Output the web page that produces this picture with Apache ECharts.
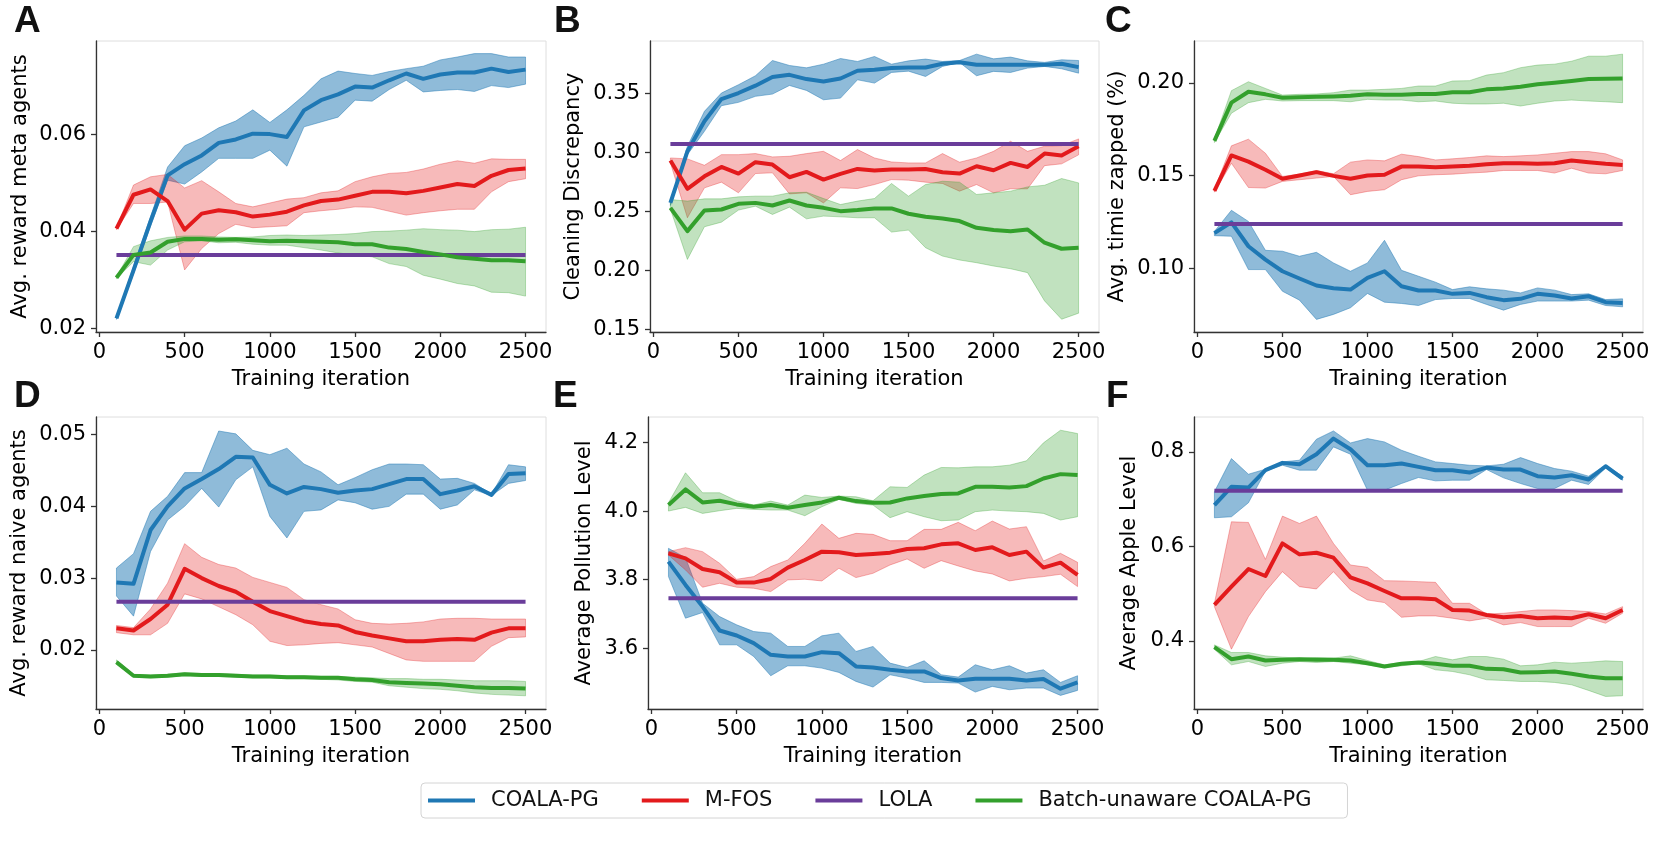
<!DOCTYPE html>
<html>
<head>
<meta charset="utf-8">
<script src="https://cdn.jsdelivr.net/npm/echarts@6/dist/echarts.min.js"></script>
<style>
html,body{margin:0;padding:0;background:#fff;}
#chart{width:1661px;height:841px;}
</style>
</head>
<body>
<div id="chart"></div>
<script>
const iterations = [100,200,300,400,500,600,700,800,900,1000,1100,1200,1300,1400,1500,1600,1700,1800,1900,2000,2100,2200,2300,2400,2500];
const xTicks = [0,500,1000,1500,2000,2500];
const seriesNames = ['COALA-PG','M-FOS','LOLA','Batch-unaware COALA-PG'];

// Panel A: Avg. reward meta agents
const A_coala_mean = [0.0220,0.0319,0.0420,0.0515,0.0538,0.0556,0.0582,0.0589,0.0601,0.0600,0.0594,0.0649,0.0670,0.0682,0.0698,0.0696,0.0711,0.0725,0.0714,0.0723,0.0727,0.0727,0.0735,0.0728,0.0733];
const A_coala_lo = [0.0218,0.0312,0.0410,0.0505,0.0497,0.0522,0.0550,0.0550,0.0550,0.0567,0.0534,0.0615,0.0625,0.0635,0.0670,0.0668,0.0692,0.0711,0.0687,0.0690,0.0692,0.0688,0.0700,0.0696,0.0703];
const A_coala_hi = [0.0222,0.0328,0.0430,0.0532,0.0576,0.0592,0.0613,0.0627,0.0650,0.0624,0.0650,0.0680,0.0714,0.0730,0.0725,0.0721,0.0729,0.0735,0.0740,0.0753,0.0759,0.0766,0.0766,0.0759,0.0759];
const A_mfos_mean = [0.0405,0.0475,0.0486,0.0462,0.0403,0.0436,0.0443,0.0439,0.0430,0.0434,0.0440,0.0453,0.0462,0.0465,0.0473,0.0481,0.0481,0.0478,0.0483,0.0490,0.0497,0.0493,0.0514,0.0526,0.0529];
const A_mfos_lo = [0.0403,0.0457,0.0457,0.0460,0.0320,0.0364,0.0395,0.0414,0.0407,0.0409,0.0411,0.0438,0.0442,0.0445,0.0450,0.0449,0.0441,0.0433,0.0438,0.0442,0.0445,0.0445,0.0481,0.0502,0.0508];
const A_mfos_hi = [0.0407,0.0495,0.0512,0.0517,0.0489,0.0504,0.0481,0.0457,0.0450,0.0458,0.0466,0.0469,0.0479,0.0483,0.0502,0.0512,0.0519,0.0521,0.0528,0.0538,0.0545,0.0540,0.0549,0.0548,0.0548];
const A_lola = 0.0351;
const A_batch_mean = [0.0304,0.0351,0.0356,0.0378,0.0384,0.0384,0.0382,0.0383,0.0381,0.0379,0.0380,0.0379,0.0378,0.0377,0.0373,0.0373,0.0366,0.0363,0.0357,0.0352,0.0346,0.0343,0.0340,0.0340,0.0338];
const A_batch_lo = [0.0302,0.0337,0.0330,0.0361,0.0378,0.0380,0.0376,0.0377,0.0373,0.0371,0.0371,0.0366,0.0361,0.0355,0.0351,0.0347,0.0333,0.0327,0.0309,0.0301,0.0292,0.0287,0.0274,0.0273,0.0266];
const A_batch_hi = [0.0306,0.0368,0.0380,0.0387,0.0390,0.0390,0.0388,0.0387,0.0388,0.0391,0.0392,0.0391,0.0392,0.0393,0.0395,0.0399,0.0400,0.0402,0.0405,0.0403,0.0402,0.0399,0.0403,0.0404,0.0408];
const A_yticks = [0.02,0.04,0.06];

// Panel B: Cleaning Discrepancy
const B_coala_mean = [0.2572,0.3008,0.3262,0.3450,0.3501,0.3563,0.3636,0.3655,0.3619,0.3599,0.3624,0.3689,0.3698,0.3712,0.3717,0.3717,0.3748,0.3762,0.3740,0.3740,0.3740,0.3740,0.3740,0.3748,0.3720];
const B_coala_lo = [0.2550,0.2980,0.3177,0.3394,0.3422,0.3473,0.3492,0.3565,0.3523,0.3444,0.3458,0.3613,0.3585,0.3675,0.3686,0.3641,0.3726,0.3760,0.3647,0.3684,0.3675,0.3712,0.3726,0.3706,0.3669];
const B_coala_hi = [0.2590,0.3050,0.3346,0.3501,0.3571,0.3647,0.3776,0.3734,0.3714,0.3745,0.3793,0.3768,0.3810,0.3745,0.3773,0.3788,0.3768,0.3776,0.3830,0.3790,0.3805,0.3773,0.3760,0.3782,0.3776];
const B_mfos_mean = [0.2930,0.2691,0.2797,0.2876,0.2820,0.2916,0.2896,0.2789,0.2834,0.2769,0.2817,0.2859,0.2845,0.2854,0.2854,0.2859,0.2831,0.2820,0.2882,0.2848,0.2910,0.2876,0.2989,0.2972,0.3051];
const B_mfos_lo = [0.2910,0.2446,0.2699,0.2747,0.2657,0.2820,0.2826,0.2648,0.2657,0.2572,0.2699,0.2693,0.2727,0.2769,0.2764,0.2747,0.2736,0.2671,0.2727,0.2657,0.2691,0.2691,0.2887,0.2902,0.2978];
const B_mfos_hi = [0.2952,0.2944,0.2890,0.2980,0.2980,0.2989,0.2961,0.2966,0.2989,0.3008,0.2930,0.3023,0.2952,0.2918,0.2910,0.2910,0.2989,0.2916,0.2952,0.3008,0.3093,0.3008,0.3051,0.3056,0.3113];
const B_lola = 0.3070;
const B_batch_mean = [0.2530,0.2333,0.2508,0.2516,0.2564,0.2572,0.2550,0.2592,0.2550,0.2530,0.2502,0.2511,0.2525,0.2525,0.2480,0.2454,0.2440,0.2418,0.2361,0.2342,0.2333,0.2347,0.2235,0.2184,0.2193];
const B_batch_lo = [0.2520,0.2094,0.2370,0.2409,0.2511,0.2544,0.2474,0.2536,0.2437,0.2460,0.2454,0.2446,0.2446,0.2325,0.2342,0.2193,0.2122,0.2089,0.2066,0.2038,0.2015,0.1982,0.1743,0.1588,0.1639];
const B_batch_hi = [0.2600,0.2587,0.2606,0.2606,0.2623,0.2629,0.2629,0.2657,0.2662,0.2609,0.2558,0.2587,0.2609,0.2736,0.2629,0.2727,0.2755,0.2747,0.2643,0.2657,0.2671,0.2707,0.2721,0.2778,0.2741];
const B_yticks = [0.15,0.20,0.25,0.30,0.35];

// Panel C: Avg. timie zapped (%)
const C_coala_mean = [0.1189,0.1247,0.1118,0.1046,0.0983,0.0944,0.0906,0.0891,0.0884,0.0947,0.0983,0.0902,0.0879,0.0879,0.0861,0.0866,0.0843,0.0827,0.0834,0.0861,0.0852,0.0836,0.0848,0.0816,0.0812];
const C_coala_lo = [0.1175,0.1172,0.0992,0.0992,0.0875,0.0827,0.0723,0.0750,0.0786,0.0863,0.0816,0.0809,0.0798,0.0830,0.0836,0.0836,0.0804,0.0773,0.0804,0.0822,0.0822,0.0822,0.0827,0.0798,0.0791];
const C_coala_hi = [0.1198,0.1312,0.1252,0.1096,0.1091,0.1064,0.1085,0.1028,0.0983,0.1028,0.1150,0.0988,0.0956,0.0924,0.0884,0.0899,0.0888,0.0881,0.0866,0.0893,0.0881,0.0857,0.0861,0.0830,0.0834];
const C_mfos_mean = [0.1417,0.1608,0.1575,0.1531,0.1482,0.1500,0.1518,0.1498,0.1482,0.1500,0.1504,0.1548,0.1548,0.1545,0.1548,0.1552,0.1561,0.1566,0.1566,0.1563,0.1566,0.1581,0.1572,0.1563,0.1557];
const C_mfos_lo = [0.1410,0.1566,0.1435,0.1432,0.1468,0.1477,0.1486,0.1495,0.1396,0.1414,0.1423,0.1477,0.1498,0.1504,0.1507,0.1513,0.1518,0.1527,0.1527,0.1527,0.1513,0.1539,0.1513,0.1509,0.1527];
const C_mfos_hi = [0.1425,0.1660,0.1696,0.1620,0.1495,0.1507,0.1527,0.1509,0.1572,0.1584,0.1579,0.1615,0.1602,0.1584,0.1590,0.1597,0.1606,0.1602,0.1606,0.1611,0.1620,0.1629,0.1629,0.1617,0.1584];
const C_lola = 0.1238;
const C_batch_mean = [0.1687,0.1893,0.1952,0.1938,0.1920,0.1922,0.1925,0.1927,0.1931,0.1938,0.1936,0.1936,0.1940,0.1940,0.1949,0.1949,0.1965,0.1970,0.1979,0.1992,0.2001,0.2010,0.2021,0.2022,0.2024];
const C_batch_lo = [0.1678,0.1836,0.1893,0.1911,0.1902,0.1904,0.1904,0.1904,0.1898,0.1911,0.1907,0.1907,0.1898,0.1902,0.1890,0.1886,0.1886,0.1890,0.1875,0.1890,0.1902,0.1907,0.1902,0.1898,0.1893];
const C_batch_hi = [0.1696,0.1958,0.2006,0.1970,0.1934,0.1938,0.1940,0.1947,0.1961,0.1961,0.1965,0.1970,0.1983,0.1983,0.2010,0.2012,0.2042,0.2055,0.2082,0.2096,0.2101,0.2117,0.2144,0.2144,0.2155];
const C_yticks = [0.10,0.15,0.20];

// Panel D: Avg. reward naive agents
const D_coala_mean = [0.0294,0.0292,0.0367,0.0400,0.0425,0.0438,0.0452,0.0469,0.0468,0.0430,0.0418,0.0427,0.0424,0.0419,0.0422,0.0424,0.0431,0.0438,0.0438,0.0417,0.0422,0.0428,0.0416,0.0445,0.0446];
const D_coala_lo = [0.0275,0.0247,0.0337,0.0381,0.0400,0.0425,0.0399,0.0437,0.0455,0.0386,0.0356,0.0393,0.0395,0.0409,0.0405,0.0396,0.0400,0.0417,0.0417,0.0396,0.0402,0.0423,0.0415,0.0432,0.0436];
const D_coala_hi = [0.0314,0.0334,0.0393,0.0414,0.0447,0.0447,0.0505,0.0501,0.0478,0.0472,0.0481,0.0459,0.0448,0.0430,0.0440,0.0451,0.0459,0.0459,0.0458,0.0438,0.0439,0.0432,0.0417,0.0458,0.0455];
const D_mfos_mean = [0.0230,0.0227,0.0243,0.0263,0.0313,0.0300,0.0289,0.0281,0.0267,0.0254,0.0247,0.0240,0.0236,0.0234,0.0225,0.0220,0.0216,0.0212,0.0212,0.0214,0.0215,0.0214,0.0224,0.0230,0.0230];
const D_mfos_lo = [0.0224,0.0221,0.0221,0.0237,0.0278,0.0271,0.0260,0.0249,0.0235,0.0212,0.0206,0.0207,0.0209,0.0210,0.0207,0.0204,0.0195,0.0186,0.0184,0.0184,0.0184,0.0184,0.0205,0.0217,0.0218];
const D_mfos_hi = [0.0234,0.0231,0.0257,0.0293,0.0348,0.0329,0.0319,0.0314,0.0301,0.0294,0.0287,0.0270,0.0263,0.0257,0.0242,0.0237,0.0236,0.0237,0.0239,0.0243,0.0244,0.0244,0.0243,0.0243,0.0243];
const D_lola = 0.0267;
const D_batch_mean = [0.0183,0.0164,0.0163,0.0164,0.0166,0.0165,0.0165,0.0164,0.0163,0.0163,0.0162,0.0162,0.0161,0.0161,0.0159,0.0158,0.0155,0.0154,0.0153,0.0152,0.0150,0.0148,0.0147,0.0147,0.0146];
const D_batch_lo = [0.0180,0.0162,0.0161,0.0162,0.0164,0.0163,0.0163,0.0162,0.0161,0.0161,0.0160,0.0160,0.0159,0.0158,0.0156,0.0155,0.0150,0.0148,0.0146,0.0145,0.0143,0.0140,0.0138,0.0137,0.0136];
const D_batch_hi = [0.0186,0.0166,0.0165,0.0166,0.0168,0.0167,0.0167,0.0166,0.0165,0.0165,0.0164,0.0164,0.0163,0.0163,0.0162,0.0161,0.0160,0.0160,0.0159,0.0159,0.0158,0.0157,0.0157,0.0157,0.0156];
const D_yticks = [0.02,0.03,0.04,0.05];

// Panel E: Average Pollution Level
const E_coala_mean = [3.8524,3.7845,3.7214,3.6515,3.6369,3.6146,3.5806,3.5757,3.5757,3.5883,3.5854,3.5466,3.5437,3.5369,3.5320,3.5320,3.5126,3.5058,3.5107,3.5107,3.5107,3.5058,3.5097,3.4816,3.5000];
const E_coala_lo = [3.8087,3.6874,3.7039,3.6097,3.6097,3.5757,3.5194,3.5485,3.5485,3.5417,3.5291,3.5029,3.4864,3.5223,3.5126,3.5000,3.5000,3.4981,3.4718,3.4883,3.4786,3.4835,3.4835,3.4621,3.4767];
const E_coala_hi = [3.8913,3.8641,3.7311,3.6922,3.6680,3.6485,3.6437,3.6049,3.6049,3.6359,3.6437,3.5903,3.6049,3.5563,3.5437,3.5631,3.5223,3.5155,3.5515,3.5369,3.5485,3.5272,3.5369,3.5000,3.5194];
const E_mfos_mean = [3.8767,3.8621,3.8311,3.8214,3.7913,3.7913,3.8019,3.8350,3.8573,3.8816,3.8796,3.8718,3.8748,3.8786,3.8893,3.8913,3.9029,3.9058,3.8864,3.8942,3.8718,3.8816,3.8350,3.8495,3.8136];
const E_mfos_lo = [3.8718,3.8282,3.7777,3.7893,3.7777,3.7748,3.7650,3.7990,3.8010,3.7961,3.8330,3.8058,3.8184,3.8427,3.8602,3.8330,3.8553,3.8398,3.8252,3.8165,3.7961,3.8039,3.8087,3.8155,3.7796];
const E_mfos_hi = [3.8816,3.8932,3.8816,3.8476,3.8010,3.8087,3.8379,3.8573,3.9058,3.9621,3.9204,3.9350,3.9320,3.9136,3.9136,3.9466,3.9466,3.9670,3.9427,3.9709,3.9476,3.9544,3.8544,3.8767,3.8505];
const E_lola = 3.7456;
const E_batch_mean = [4.0175,4.0631,4.0252,4.0301,4.0194,4.0126,4.0175,4.0097,4.0175,4.0252,4.0388,4.0291,4.0243,4.0252,4.0369,4.0437,4.0495,4.0515,4.0709,4.0709,4.0689,4.0728,4.0951,4.1078,4.1049];
const E_batch_lo = [4.0000,4.0107,3.9932,4.0010,4.0078,4.0049,4.0029,4.0029,3.9864,4.0126,4.0340,4.0223,4.0175,3.9806,3.9981,3.9835,3.9718,3.9738,3.9981,4.0029,4.0000,3.9981,3.9932,3.9738,3.9835];
const E_batch_hi = [4.0243,4.1117,4.0534,4.0534,4.0301,4.0175,4.0291,4.0175,4.0466,4.0398,4.0437,4.0417,4.0301,4.0709,4.0689,4.1049,4.1272,4.1262,4.1291,4.1291,4.1340,4.1466,4.1990,4.2359,4.2262];
const E_yticks = [3.6,3.8,4.0,4.2];

// Panel F: Average Apple Level
const F_coala_mean = [0.6873,0.7261,0.7246,0.7613,0.7768,0.7739,0.7951,0.8282,0.8056,0.7718,0.7718,0.7754,0.7683,0.7613,0.7613,0.7563,0.7669,0.7627,0.7627,0.7486,0.7458,0.7507,0.7415,0.7697,0.7437];
const F_coala_lo = [0.6606,0.6627,0.6923,0.7592,0.7718,0.7613,0.7613,0.8106,0.7951,0.7190,0.7190,0.7331,0.7458,0.7387,0.7401,0.7401,0.7627,0.7451,0.7331,0.7225,0.7225,0.7401,0.7310,0.7662,0.7401];
const F_coala_hi = [0.7155,0.7859,0.7528,0.7634,0.7789,0.7824,0.8268,0.8444,0.8190,0.8282,0.8211,0.8035,0.7908,0.7789,0.7754,0.7718,0.7704,0.7739,0.7880,0.7754,0.7648,0.7592,0.7486,0.7718,0.7486];
const F_mfos_mean = [0.4761,0.5148,0.5521,0.5373,0.6063,0.5831,0.5866,0.5761,0.5345,0.5218,0.5056,0.4901,0.4901,0.4880,0.4655,0.4641,0.4549,0.4500,0.4528,0.4479,0.4493,0.4479,0.4563,0.4479,0.4655];
const F_mfos_lo = [0.4725,0.3824,0.4514,0.5042,0.5465,0.5148,0.5099,0.5465,0.5077,0.4866,0.4810,0.4500,0.4528,0.4528,0.4479,0.4423,0.4479,0.4338,0.4387,0.4303,0.4303,0.4303,0.4479,0.4373,0.4585];
const F_mfos_hi = [0.4796,0.6521,0.6507,0.5725,0.6641,0.6486,0.6641,0.6063,0.5606,0.5556,0.5275,0.5268,0.5254,0.5239,0.4796,0.4796,0.4570,0.4585,0.4620,0.4655,0.4655,0.4641,0.4620,0.4570,0.4725];
const F_lola = 0.7176;
const F_batch_mean = [0.3866,0.3613,0.3669,0.3585,0.3599,0.3613,0.3599,0.3599,0.3585,0.3528,0.3458,0.3514,0.3542,0.3514,0.3472,0.3472,0.3408,0.3401,0.3331,0.3338,0.3352,0.3303,0.3246,0.3211,0.3211];
const F_batch_lo = [0.3824,0.3493,0.3563,0.3458,0.3528,0.3563,0.3542,0.3563,0.3528,0.3493,0.3437,0.3472,0.3514,0.3387,0.3352,0.3282,0.3176,0.3162,0.3141,0.3141,0.3120,0.3070,0.2951,0.2824,0.2838];
const F_batch_hi = [0.3915,0.3754,0.3754,0.3683,0.3655,0.3634,0.3648,0.3634,0.3683,0.3585,0.3493,0.3542,0.3563,0.3669,0.3599,0.3669,0.3669,0.3613,0.3472,0.3493,0.3549,0.3528,0.3549,0.3577,0.3563];
const F_yticks = [0.4,0.6,0.8];

// ---------- layout & style ----------
const FONT = 'DejaVu Sans';
const COLORS = {coala:'#1f78b4', mfos:'#e31a1c', lola:'#6a3d9a', batch:'#33a02c'};
const BAND_ALPHA = {coala:0.5, mfos:0.3, batch:0.3};

const panels = [
  {letter:'A', lx:14, ly:22, grid:{left:96, top:41, width:450, height:291}, ymin:0.0192, ymax:0.0792, yticks:A_yticks, dec:2, yname:'Avg. reward meta agents', gap:65,
   coala:[A_coala_mean,A_coala_lo,A_coala_hi], mfos:[A_mfos_mean,A_mfos_lo,A_mfos_hi], lola:A_lola, batch:[A_batch_mean,A_batch_lo,A_batch_hi]},
  {letter:'B', lx:554, ly:22, grid:{left:650, top:41, width:449, height:291}, ymin:0.148, ymax:0.3941, yticks:B_yticks, dec:2, yname:'Cleaning Discrepancy', gap:66,
   coala:[B_coala_mean,B_coala_lo,B_coala_hi], mfos:[B_mfos_mean,B_mfos_lo,B_mfos_hi], lola:B_lola, batch:[B_batch_mean,B_batch_lo,B_batch_hi]},
  {letter:'C', lx:1105, ly:22, grid:{left:1194, top:41, width:449, height:291}, ymin:0.0655, ymax:0.2226, yticks:C_yticks, dec:2, yname:'Avg. timie zapped (%)', gap:66,
   coala:[C_coala_mean,C_coala_lo,C_coala_hi], mfos:[C_mfos_mean,C_mfos_lo,C_mfos_hi], lola:C_lola, batch:[C_batch_mean,C_batch_lo,C_batch_hi]},
  {letter:'D', lx:14, ly:397, grid:{left:96, top:417, width:450, height:292}, ymin:0.01176, ymax:0.05245, yticks:D_yticks, dec:2, yname:'Avg. reward naive agents', gap:66,
   coala:[D_coala_mean,D_coala_lo,D_coala_hi], mfos:[D_mfos_mean,D_mfos_lo,D_mfos_hi], lola:D_lola, batch:[D_batch_mean,D_batch_lo,D_batch_hi]},
  {letter:'E', lx:553, ly:397, grid:{left:648, top:417, width:450, height:292}, ymin:3.4224, ymax:4.2745, yticks:E_yticks, dec:1, yname:'Average Pollution Level', gap:53,
   coala:[E_coala_mean,E_coala_lo,E_coala_hi], mfos:[E_mfos_mean,E_mfos_lo,E_mfos_hi], lola:E_lola, batch:[E_batch_mean,E_batch_lo,E_batch_hi]},
  {letter:'F', lx:1106, ly:397, grid:{left:1194, top:417, width:449, height:292}, ymin:0.2558, ymax:0.8739, yticks:F_yticks, dec:1, yname:'Average Apple Level', gap:54,
   coala:[F_coala_mean,F_coala_lo,F_coala_hi], mfos:[F_mfos_mean,F_mfos_lo,F_mfos_hi], lola:F_lola, batch:[F_batch_mean,F_batch_lo,F_batch_hi]}
];

function hexA(hex, a){
  const r=parseInt(hex.slice(1,3),16), g=parseInt(hex.slice(3,5),16), b=parseInt(hex.slice(5,7),16);
  return 'rgba('+r+','+g+','+b+','+a+')';
}
const pairs = arr => iterations.map((x,i)=>[x,arr[i]]);

const grids=[], xAxes=[], yAxes=[], series=[], graphics=[];
const axisLineStyle = {color:'#333', width:1.3};

panels.forEach((p, k) => {
  grids.push(Object.assign({show:true, borderColor:'#dedede', borderWidth:1, backgroundColor:'#fff', containLabel:false}, p.grid));
  xAxes.push({
    type:'value', gridIndex:k, min:-20, max:2620,
    name:'Training iteration', nameLocation:'middle', nameGap:37,
    nameTextStyle:{fontFamily:FONT, fontSize:21, color:'#000'},
    axisLine:{show:true, onZero:false, lineStyle:axisLineStyle},
    axisTick:{show:true, length:5, customValues:xTicks, lineStyle:axisLineStyle},
    axisLabel:{customValues:xTicks, fontFamily:FONT, fontSize:21, color:'#000', margin:10,
      formatter:(v)=>String(Math.round(v))},
    splitLine:{show:false}
  });
  yAxes.push({
    type:'value', gridIndex:k, min:p.ymin, max:p.ymax,
    name:p.yname, nameLocation:'middle', nameGap:p.gap,
    nameTextStyle:{fontFamily:FONT, fontSize:21, color:'#000'},
    axisLine:{show:true, onZero:false, lineStyle:axisLineStyle},
    axisTick:{show:true, length:5, customValues:p.yticks, lineStyle:axisLineStyle},
    axisLabel:{customValues:p.yticks, fontFamily:FONT, fontSize:21, color:'#000', margin:10,
      formatter:(v)=>Number(v).toFixed(p.dec)},
    splitLine:{show:false}
  });

  const addBand = (key, lo, hi) => {
    const c = COLORS[key];
    series.push({
      type:'custom', name:'band-'+key+k, xAxisIndex:k, yAxisIndex:k, silent:true, z:2,
      data: iterations.map((x,i)=>[x, lo[i], hi[i]]),
      encode:{x:0, y:[1,2]},
      renderItem:(params, api) => {
        if (params.dataIndex !== 0) return null;
        const top = iterations.map((x,i)=>api.coord([x, hi[i]]));
        const bot = iterations.map((x,i)=>api.coord([x, lo[i]])).reverse();
        return {
          type:'polygon', shape:{points: top.concat(bot)},
          style:{fill:hexA(c, BAND_ALPHA[key]), stroke:hexA(c, BAND_ALPHA[key]+0.1), lineWidth:0.8}
        };
      }
    });
  };
  const addLine = (key, name, arr) => {
    series.push({
      type:'line', name:name, xAxisIndex:k, yAxisIndex:k, data:pairs(arr),
      symbol:'none', color:COLORS[key], z:2,
      lineStyle:{width:4, color:COLORS[key], cap:'butt', join:'round'}
    });
  };

  addBand('coala', p.coala[1], p.coala[2]);
  addLine('coala', seriesNames[0], p.coala[0]);
  addBand('mfos', p.mfos[1], p.mfos[2]);
  addLine('mfos', seriesNames[1], p.mfos[0]);
  addLine('lola', seriesNames[2], iterations.map(()=>p.lola));
  addBand('batch', p.batch[1], p.batch[2]);
  addLine('batch', seriesNames[3], p.batch[0]);

  graphics.push({
    type:'text', left:p.lx, top:p.ly-19,
    style:{text:p.letter, fill:'#111', font:'bold 37px "Liberation Sans", Arial, sans-serif'}
  });
});

const chart = echarts.init(document.getElementById('chart'), null, {renderer:'canvas'});
chart.setOption({
  animation:false,
  backgroundColor:'#fff',
  grid:grids, xAxis:xAxes, yAxis:yAxes, series:series,
  graphic:graphics,
  legend:{
    data:seriesNames.map(n=>({name:n, icon:'rect'})),
    left:421, top:783, orient:'horizontal',
    itemWidth:47, itemHeight:4, itemGap:43,
    padding:[7,36,7,7],
    borderColor:'#d4d4d4', borderWidth:1, borderRadius:4, backgroundColor:'#fff',
    textStyle:{fontFamily:FONT, fontSize:21, color:'#111', padding:[0,0,0,11]},
    selectedMode:false
  }
});
</script>
</body>
</html>
